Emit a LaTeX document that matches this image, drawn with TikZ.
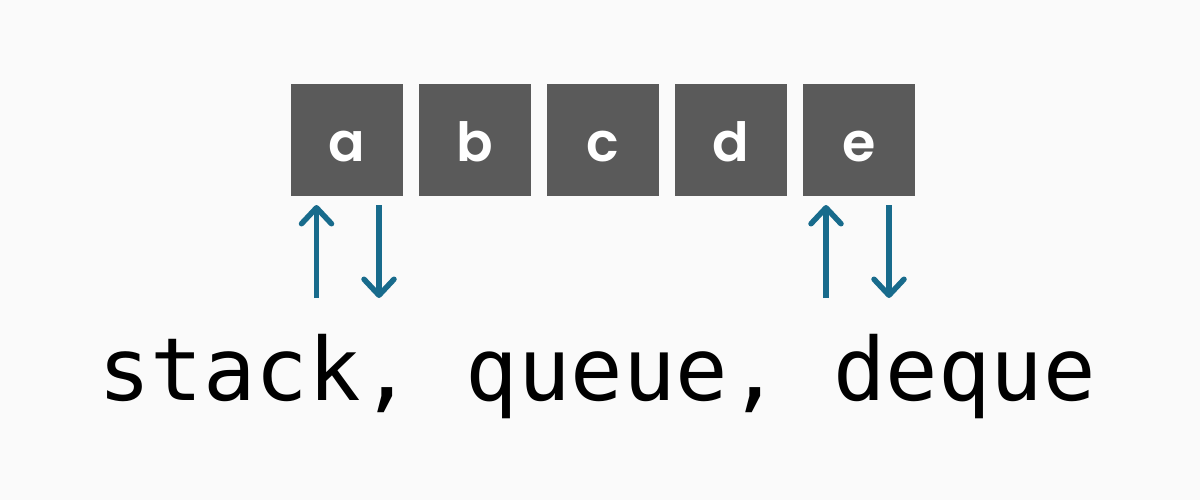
\documentclass[tikz,border=0pt]{standalone}
\usepackage{fontspec}
\newfontfamily\boxfont{Poppins}[UprightFont=* SemiBold]
\newfontfamily\codefont{DejaVu Sans Mono}
\usetikzlibrary{arrows.meta}
\definecolor{bg}{HTML}{FAFAFA}
\definecolor{boxgray}{HTML}{5A5A5A}
\definecolor{arrowblue}{HTML}{186B8C}
\tikzset{
  cell/.style={fill=boxgray, draw=none, minimum width=112pt, minimum height=112pt,
    inner sep=0pt},
  celltext/.style={anchor=base, inner sep=0pt, text=white, font=\boxfont\fontsize{54}{54}\selectfont},
  flow/.style={draw=arrowblue, line width=5.5pt, -{Straight Barb[length=16pt,width=30pt,line cap=round,line join=round]}}
}
\begin{document}
\begin{tikzpicture}[x=1pt,y=-1pt]
\fill[bg] (0,0) rectangle (1200,500);
\useasboundingbox (0,0) rectangle (1200,500);
\foreach \n/\x in {a/347,b/475,c/603,d/731,e/859}{
  \node[cell] (\n) at (\x,140) {};
  \node[celltext] (\n t) at (\x,161) {\n};
}
\coordinate (a1) at (316.5,298);
\coordinate (a2) at (379,298);
\coordinate (e1) at (826,298);
\coordinate (e2) at (889,298);
\draw[flow] (a1) -- (a1 |- 0,205);
\draw[flow] (a2 |- 0,205) -- (a2);
\draw[flow] (e1) -- (e1 |- 0,205);
\draw[flow] (e2 |- 0,205) -- (e2);
\node[inner sep=0pt, anchor=base, font=\codefont\fontsize{87.2}{87.2}\selectfont] (label) at (597,400.7) {stack, queue, deque};
\end{tikzpicture}
\end{document}
